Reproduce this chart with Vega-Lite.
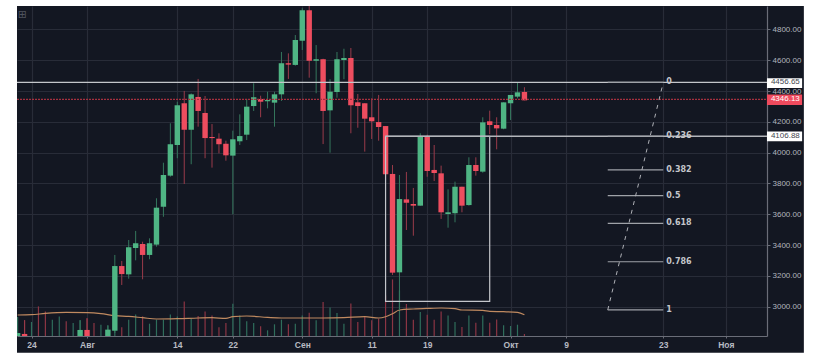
{
"$schema":"https://vega.github.io/schema/vega-lite/v6.json",
"width":750,"height":330,
"autosize":{"type":"none"},
"padding":{"left":17,"top":6,"right":47,"bottom":24},
"background":"#131722",
"config":{"view":{"stroke":null,"fill":"#131722"},"axis":{"title":null,"labelOverlap":false,"labelBound":false}},
"datasets":{
"candles":[
{"date":"2017-07-22","open":2780,"high":2829,"low":2780,"close":2829},
{"date":"2017-07-23","open":2823,"high":2913,"low":2780,"close":2780},
{"date":"2017-07-31","open":2780,"high":2913,"low":2780,"close":2849},
{"date":"2017-08-01","open":2849,"high":2926,"low":2780,"close":2780},
{"date":"2017-08-04","open":2780,"high":2881,"low":2780,"close":2851},
{"date":"2017-08-05","open":2844,"high":3336,"low":2829,"close":3264},
{"date":"2017-08-06","open":3264,"high":3297,"low":3141,"close":3212},
{"date":"2017-08-07","open":3210,"high":3433,"low":3182,"close":3386},
{"date":"2017-08-08","open":3381,"high":3492,"low":3301,"close":3412},
{"date":"2017-08-09","open":3407,"high":3422,"low":3178,"close":3336},
{"date":"2017-08-10","open":3336,"high":3444,"low":3308,"close":3412},
{"date":"2017-08-11","open":3403,"high":3704,"low":3390,"close":3643},
{"date":"2017-08-12","open":3649,"high":3935,"low":3584,"close":3855},
{"date":"2017-08-13","open":3851,"high":4191,"low":3844,"close":4055},
{"date":"2017-08-14","open":4050,"high":4331,"low":3964,"close":4308},
{"date":"2017-08-15","open":4321,"high":4401,"low":3797,"close":4149},
{"date":"2017-08-16","open":4149,"high":4385,"low":3925,"close":4379},
{"date":"2017-08-17","open":4362,"high":4479,"low":4169,"close":4271},
{"date":"2017-08-18","open":4258,"high":4368,"low":3964,"close":4095},
{"date":"2017-08-19","open":4102,"high":4186,"low":3903,"close":4095},
{"date":"2017-08-20","open":4091,"high":4126,"low":3996,"close":4055},
{"date":"2017-08-21","open":4058,"high":4078,"low":3948,"close":3983},
{"date":"2017-08-22","open":3981,"high":4143,"low":3600,"close":4087},
{"date":"2017-08-23","open":4074,"high":4249,"low":4050,"close":4108},
{"date":"2017-08-24","open":4117,"high":4349,"low":4082,"close":4299},
{"date":"2017-08-25","open":4303,"high":4451,"low":4271,"close":4360},
{"date":"2017-08-26","open":4349,"high":4370,"low":4230,"close":4331},
{"date":"2017-08-27","open":4334,"high":4396,"low":4288,"close":4342},
{"date":"2017-08-28","open":4325,"high":4396,"low":4169,"close":4379},
{"date":"2017-08-29","open":4379,"high":4654,"low":4336,"close":4581},
{"date":"2017-08-30","open":4581,"high":4645,"low":4479,"close":4572},
{"date":"2017-08-31","open":4570,"high":4764,"low":4565,"close":4732},
{"date":"2017-09-01","open":4727,"high":4938,"low":4667,"close":4925},
{"date":"2017-09-02","open":4925,"high":4980,"low":4487,"close":4597},
{"date":"2017-09-03","open":4597,"high":4699,"low":4386,"close":4607},
{"date":"2017-09-04","open":4607,"high":4610,"low":4056,"close":4271},
{"date":"2017-09-05","open":4275,"high":4477,"low":4000,"close":4396},
{"date":"2017-09-06","open":4394,"high":4654,"low":4357,"close":4607},
{"date":"2017-09-07","open":4602,"high":4675,"low":4477,"close":4615},
{"date":"2017-09-08","open":4615,"high":4680,"low":4126,"close":4308},
{"date":"2017-09-09","open":4327,"high":4381,"low":4162,"close":4303},
{"date":"2017-09-10","open":4321,"high":4321,"low":4007,"close":4221},
{"date":"2017-09-11","open":4230,"high":4353,"low":4089,"close":4204},
{"date":"2017-09-12","open":4199,"high":4375,"low":4078,"close":4167},
{"date":"2017-09-13","open":4173,"high":4173,"low":3844,"close":3860},
{"date":"2017-09-14","open":3862,"high":3920,"low":3206,"close":3221},
{"date":"2017-09-15","open":3223,"high":3855,"low":2979,"close":3699},
{"date":"2017-09-16","open":3697,"high":3875,"low":3498,"close":3675},
{"date":"2017-09-17","open":3667,"high":3771,"low":3461,"close":3656},
{"date":"2017-09-18","open":3656,"high":4126,"low":3656,"close":4108},
{"date":"2017-09-19","open":4104,"high":4117,"low":3844,"close":3881},
{"date":"2017-09-20","open":3888,"high":4050,"low":3816,"close":3868},
{"date":"2017-09-21","open":3866,"high":3916,"low":3570,"close":3613},
{"date":"2017-09-22","open":3602,"high":3762,"low":3513,"close":3613},
{"date":"2017-09-23","open":3607,"high":3812,"low":3548,"close":3779},
{"date":"2017-09-24","open":3779,"high":3779,"low":3613,"close":3656},
{"date":"2017-09-25","open":3660,"high":3970,"low":3656,"close":3920},
{"date":"2017-09-26","open":3920,"high":3970,"low":3851,"close":3881},
{"date":"2017-09-27","open":3877,"high":4230,"low":3870,"close":4197},
{"date":"2017-09-28","open":4204,"high":4273,"low":4120,"close":4180},
{"date":"2017-09-29","open":4180,"high":4230,"low":4022,"close":4158},
{"date":"2017-09-30","open":4156,"high":4327,"low":4152,"close":4327},
{"date":"2017-10-01","open":4321,"high":4375,"low":4212,"close":4375},
{"date":"2017-10-02","open":4364,"high":4455,"low":4353,"close":4392},
{"date":"2017-10-03","open":4394,"high":4425,"low":4340,"close":4340}
],
"volume":[
{"date":"2017-07-22","volume":190,"dir":"up"},{"date":"2017-07-23","volume":157,"dir":"down"},
{"date":"2017-07-24","volume":140,"dir":"up"},{"date":"2017-07-25","volume":296,"dir":"down"},
{"date":"2017-07-26","volume":246,"dir":"down"},{"date":"2017-07-27","volume":163,"dir":"up"},
{"date":"2017-07-28","volume":196,"dir":"up"},{"date":"2017-07-29","volume":147,"dir":"down"},
{"date":"2017-07-30","volume":130,"dir":"up"},{"date":"2017-07-31","volume":157,"dir":"up"},
{"date":"2017-08-01","volume":176,"dir":"down"},{"date":"2017-08-02","volume":130,"dir":"down"},
{"date":"2017-08-03","volume":113,"dir":"up"},{"date":"2017-08-04","volume":103,"dir":"up"},
{"date":"2017-08-05","volume":57,"dir":"up"},{"date":"2017-08-06","volume":87,"dir":"down"},
{"date":"2017-08-07","volume":163,"dir":"up"},{"date":"2017-08-08","volume":216,"dir":"up"},
{"date":"2017-08-09","volume":196,"dir":"down"},{"date":"2017-08-10","volume":123,"dir":"up"},
{"date":"2017-08-11","volume":163,"dir":"up"},{"date":"2017-08-12","volume":163,"dir":"up"},
{"date":"2017-08-13","volume":216,"dir":"up"},{"date":"2017-08-14","volume":196,"dir":"up"},
{"date":"2017-08-15","volume":346,"dir":"down"},{"date":"2017-08-16","volume":173,"dir":"up"},
{"date":"2017-08-17","volume":200,"dir":"down"},{"date":"2017-08-18","volume":246,"dir":"down"},
{"date":"2017-08-19","volume":206,"dir":"down"},{"date":"2017-08-20","volume":87,"dir":"down"},
{"date":"2017-08-21","volume":130,"dir":"down"},{"date":"2017-08-22","volume":323,"dir":"up"},
{"date":"2017-08-23","volume":206,"dir":"up"},{"date":"2017-08-24","volume":147,"dir":"up"},
{"date":"2017-08-25","volume":130,"dir":"up"},{"date":"2017-08-26","volume":97,"dir":"down"},
{"date":"2017-08-27","volume":57,"dir":"up"},{"date":"2017-08-28","volume":117,"dir":"up"},
{"date":"2017-08-29","volume":163,"dir":"up"},{"date":"2017-08-30","volume":117,"dir":"down"},
{"date":"2017-08-31","volume":123,"dir":"up"},{"date":"2017-09-01","volume":206,"dir":"up"},
{"date":"2017-09-02","volume":233,"dir":"down"},{"date":"2017-09-03","volume":157,"dir":"up"},
{"date":"2017-09-04","volume":340,"dir":"down"},{"date":"2017-09-05","volume":286,"dir":"up"},
{"date":"2017-09-06","volume":230,"dir":"up"},{"date":"2017-09-07","volume":123,"dir":"up"},
{"date":"2017-09-08","volume":326,"dir":"down"},{"date":"2017-09-09","volume":140,"dir":"down"},
{"date":"2017-09-10","volume":196,"dir":"down"},{"date":"2017-09-11","volume":157,"dir":"down"},
{"date":"2017-09-12","volume":173,"dir":"down"},{"date":"2017-09-13","volume":406,"dir":"down"},
{"date":"2017-09-14","volume":566,"dir":"down"},{"date":"2017-09-15","volume":456,"dir":"up"},
{"date":"2017-09-16","volume":320,"dir":"down"},{"date":"2017-09-17","volume":163,"dir":"down"},
{"date":"2017-09-18","volume":240,"dir":"up"},{"date":"2017-09-19","volume":213,"dir":"down"},
{"date":"2017-09-20","volume":163,"dir":"down"},{"date":"2017-09-21","volume":246,"dir":"down"},
{"date":"2017-09-22","volume":206,"dir":"up"},{"date":"2017-09-23","volume":140,"dir":"up"},
{"date":"2017-09-24","volume":90,"dir":"down"},{"date":"2017-09-25","volume":206,"dir":"up"},
{"date":"2017-09-26","volume":133,"dir":"down"},{"date":"2017-09-27","volume":206,"dir":"up"},
{"date":"2017-09-28","volume":133,"dir":"down"},{"date":"2017-09-29","volume":166,"dir":"down"},
{"date":"2017-09-30","volume":107,"dir":"up"},{"date":"2017-10-01","volume":100,"dir":"up"},
{"date":"2017-10-02","volume":113,"dir":"up"},{"date":"2017-10-03","volume":20,"dir":"down"}
],
"volumeMA":[
{"date":"2017-07-22","ma":210},{"date":"2017-07-24","ma":213},{"date":"2017-07-26","ma":226},{"date":"2017-07-29","ma":236},
{"date":"2017-08-01","ma":233},{"date":"2017-08-03","ma":223},{"date":"2017-08-05","ma":203},{"date":"2017-08-07","ma":196},
{"date":"2017-08-09","ma":183},{"date":"2017-08-11","ma":170},{"date":"2017-08-14","ma":173},{"date":"2017-08-17","ma":180},
{"date":"2017-08-19","ma":183},{"date":"2017-08-21","ma":176},{"date":"2017-08-22","ma":193},{"date":"2017-08-24","ma":200},
{"date":"2017-08-27","ma":186},{"date":"2017-08-29","ma":180},{"date":"2017-09-01","ma":180},{"date":"2017-09-04","ma":180},
{"date":"2017-09-07","ma":183},{"date":"2017-09-10","ma":193},{"date":"2017-09-12","ma":180},{"date":"2017-09-13","ma":193},
{"date":"2017-09-14","ma":223},{"date":"2017-09-15","ma":260},{"date":"2017-09-17","ma":270},{"date":"2017-09-19","ma":276},
{"date":"2017-09-21","ma":280},{"date":"2017-09-23","ma":273},{"date":"2017-09-24","ma":260},{"date":"2017-09-27","ma":256},
{"date":"2017-09-28","ma":246},{"date":"2017-09-30","ma":243},{"date":"2017-10-02","ma":236},{"date":"2017-10-03","ma":213}
],
"fib":[
{"date":"2017-10-15","date2":"2017-10-23","price":4456.65,"label":"0"},
{"date":"2017-10-15","date2":"2017-10-23","price":4106.88,"label":"0.236"},
{"date":"2017-10-15","date2":"2017-10-23","price":3888,"label":"0.382"},
{"date":"2017-10-15","date2":"2017-10-23","price":3721,"label":"0.5"},
{"date":"2017-10-15","date2":"2017-10-23","price":3541,"label":"0.618"},
{"date":"2017-10-15","date2":"2017-10-23","price":3292,"label":"0.786"},
{"date":"2017-10-15","date2":"2017-10-23","price":2979,"label":"1"}
],
"trend":[{"date":"2017-10-15","price":2979},{"date":"2017-10-23","price":4456.65}],
"box":[{"date":"2017-09-13","date2":"2017-09-28","lo":3035,"hi":4106.88}],
"badges":[
{"date":"2017-11-06T22:30:00Z","date2":"2017-11-12","mid":"2017-11-09T14:00:00Z","price":4456.65,"lo":4420,"hi":4483,"label":"4456.65","kind":"white"},
{"date":"2017-11-06T22:30:00Z","date2":"2017-11-12","mid":"2017-11-09T14:00:00Z","price":4346.13,"lo":4310,"hi":4378,"label":"4346.13","kind":"red"},
{"date":"2017-11-06T22:30:00Z","date2":"2017-11-12","mid":"2017-11-09T14:00:00Z","price":4106.88,"lo":4074,"hi":4138,"label":"4106.88","kind":"white"}
],
"margins":[
{"date":"2017-06-01","date2":"2017-07-21T21:50:00Z","lo":1000,"hi":7000},
{"date":"2017-11-12T06:00:00Z","date2":"2018-02-01","lo":1000,"hi":7000},
{"date":"2017-06-01","date2":"2018-02-01","lo":4952.6,"hi":7000},
{"date":"2017-06-01","date2":"2018-02-01","lo":1000,"hi":2701}
]
},
"encoding":{
"x":{"field":"date","type":"temporal","title":null,
"scale":{"type":"utc","domain":[1500673824000,1510007616000],"padding":0,"nice":false},
"axis":{"values":[1500854400000,1501545600000,1502668800000,1503360000000,1504224000000,1505088000000,1505779200000,1506816000000,1507507200000,1508716800000,1509494400000],
"labelExpr":"utcdate(datum.value)==1 ? (utcmonth(datum.value)==7?'Авг':utcmonth(datum.value)==8?'Сен':utcmonth(datum.value)==9?'Окт':'Ноя') : utcdate(datum.value)+''",
"grid":true,"gridColor":"#282c38","gridWidth":1.2,"domainColor":"#6a6d78","domainWidth":1.2,"tickColor":"#6a6d78","tickSize":2,
"labelColor":"#b8bbc2","labelFont":"Liberation Sans","labelFontSize":8.5,"labelFontWeight":"bold","labelPadding":2,"labelOverlap":false,"labelFlush":false}}
},
"layer":[
{"layer":[
{"data":{"name":"volume"},"mark":{"type":"bar","width":1.2},
"encoding":{"y":{"field":"volume","type":"quantitative","scale":{"domain":[0,3300]},"axis":null},
"color":{"field":"dir","type":"nominal","legend":null,"scale":{"domain":["up","down"],"range":["#2f6e5c","#8c3544"]}}}},
{"data":{"name":"volumeMA"},"mark":{"type":"line","color":"#c08a60","strokeWidth":1.2,"interpolate":"monotone"},
"encoding":{"y":{"field":"ma","type":"quantitative","scale":{"domain":[0,3300]},"axis":null}}}
]},
{"layer":[
{"data":{"name":"candles"},"mark":{"type":"rule","clip":true,"strokeWidth":1},
"encoding":{"y":{"field":"low","type":"quantitative","scale":{"domain":[2809.7,4952.6]},
"axis":{"orient":"right","values":[3000,3200,3400,3600,3800,4000,4200,4400,4600,4800],"tickCount":10,"format":".2f","title":null,"labelOverlap":false,
"grid":true,"gridColor":"#282c38","gridWidth":1.2,"domainColor":"#6a6d78","domainWidth":1.2,"tickColor":"#6a6d78","tickSize":3,
"labelColor":"#b2b5be","labelFont":"Liberation Sans","labelFontSize":8,"labelPadding":2}},
"y2":{"field":"high"},
"color":{"condition":{"test":"datum.close>=datum.open","value":"#35775d"},"value":"#9a3b4a"}}},
{"data":{"name":"candles"},"mark":{"type":"bar","width":5.4,"clip":true},
"encoding":{"y":{"field":"open","type":"quantitative","scale":{"domain":[2809.7,4952.6]},"axis":{"values":[3000,3200,3400,3600,3800,4000,4200,4400,4600,4800],"tickCount":10}},
"y2":{"field":"close"},
"color":{"condition":{"test":"datum.close>=datum.open","value":"#4fb584"},"value":"#ee4d5f"}}},
{"data":{"name":"box"},"mark":{"type":"rect","fillOpacity":0,"stroke":"#c4c6cb","strokeWidth":1.2},
"encoding":{"x2":{"field":"date2"},"y":{"field":"lo","type":"quantitative","scale":{"domain":[2809.7,4952.6]},"axis":{"values":[3000,3200,3400,3600,3800,4000,4200,4400,4600,4800],"tickCount":10}},"y2":{"field":"hi"}}},
{"data":{"values":[{"price":4456.65}]},"mark":{"type":"rule","color":"#c4c6cb","strokeWidth":1.3},
"encoding":{"x":{"value":0},"x2":{"value":750},"y":{"field":"price","type":"quantitative","scale":{"domain":[2809.7,4952.6]},"axis":{"values":[3000,3200,3400,3600,3800,4000,4200,4400,4600,4800],"tickCount":10}}}},
{"data":{"values":[{"price":4346.13}]},"mark":{"type":"rule","color":"#a5303f","strokeWidth":1.3,"strokeDash":[2,1]},
"encoding":{"x":{"value":0},"x2":{"value":750},"y":{"field":"price","type":"quantitative","scale":{"domain":[2809.7,4952.6]},"axis":{"values":[3000,3200,3400,3600,3800,4000,4200,4400,4600,4800],"tickCount":10}}}},
{"data":{"values":[{"date":"2017-09-13","date2":"2017-11-06T22:30:00Z","price":4106.88}]},"mark":{"type":"rule","color":"#b4b6bb","strokeWidth":1.3},
"encoding":{"x2":{"field":"date2"},"y":{"field":"price","type":"quantitative","scale":{"domain":[2809.7,4952.6]},"axis":{"values":[3000,3200,3400,3600,3800,4000,4200,4400,4600,4800],"tickCount":10}}}},
{"data":{"name":"fib"},"mark":{"type":"rule","color":"#9fa2a8","strokeWidth":1.2},
"encoding":{"x2":{"field":"date2"},"y":{"field":"price","type":"quantitative","scale":{"domain":[2809.7,4952.6]},"axis":{"values":[3000,3200,3400,3600,3800,4000,4200,4400,4600,4800],"tickCount":10}}}},
{"data":{"name":"trend"},"mark":{"type":"line","color":"#b0b2b8","strokeWidth":1,"strokeDash":[4,5]},
"encoding":{"y":{"field":"price","type":"quantitative","scale":{"domain":[2809.7,4952.6]},"axis":{"values":[3000,3200,3400,3600,3800,4000,4200,4400,4600,4800],"tickCount":10}}}},
{"data":{"name":"fib"},"mark":{"type":"text","align":"left","dx":3,"font":"DejaVu Sans","fontWeight":"bold","fontSize":8,"color":"#c4c6cb"},
"encoding":{"x":{"field":"date2","type":"temporal"},"y":{"field":"price","type":"quantitative","scale":{"domain":[2809.7,4952.6]},"axis":{"values":[3000,3200,3400,3600,3800,4000,4200,4400,4600,4800],"tickCount":10}},"text":{"field":"label"}}},
{"data":{"name":"badges"},"mark":{"type":"rect"},
"encoding":{"x2":{"field":"date2"},"y":{"field":"lo","type":"quantitative","scale":{"domain":[2809.7,4952.6]},"axis":{"values":[3000,3200,3400,3600,3800,4000,4200,4400,4600,4800],"tickCount":10}},"y2":{"field":"hi"},
"color":{"field":"kind","type":"nominal","legend":null,"scale":{"domain":["white","red"],"range":["#ffffff","#ef4a5d"]}}}},
{"data":{"name":"badges"},"mark":{"type":"text","align":"center","baseline":"middle","font":"Liberation Sans","fontSize":8},
"encoding":{"x":{"field":"mid","type":"temporal"},"y":{"field":"price","type":"quantitative","scale":{"domain":[2809.7,4952.6]},"axis":{"values":[3000,3200,3400,3600,3800,4000,4200,4400,4600,4800],"tickCount":10}},"text":{"field":"label"},
"color":{"condition":{"test":"datum.kind=='red'","value":"#ffffff"},"value":"#444750"}}},
{"data":{"values":[{"date":"2017-07-22T16:00:00Z","price":4897,"label":"⊞"}]},"mark":{"type":"text","font":"DejaVu Sans","fontSize":11,"color":"#50545f"},
"encoding":{"y":{"field":"price","type":"quantitative","scale":{"domain":[2809.7,4952.6]},"axis":{"values":[3000,3200,3400,3600,3800,4000,4200,4400,4600,4800],"tickCount":10}},"text":{"field":"label"}}},
{"data":{"name":"margins"},"mark":{"type":"rect","color":"#ffffff"},
"encoding":{"x2":{"field":"date2"},"y":{"field":"lo","type":"quantitative","scale":{"domain":[2809.7,4952.6]},"axis":{"values":[3000,3200,3400,3600,3800,4000,4200,4400,4600,4800],"tickCount":10}},"y2":{"field":"hi"}}}
]}
],
"resolve":{"scale":{"y":"independent","color":"independent"},"axis":{"y":"independent"}}
}
